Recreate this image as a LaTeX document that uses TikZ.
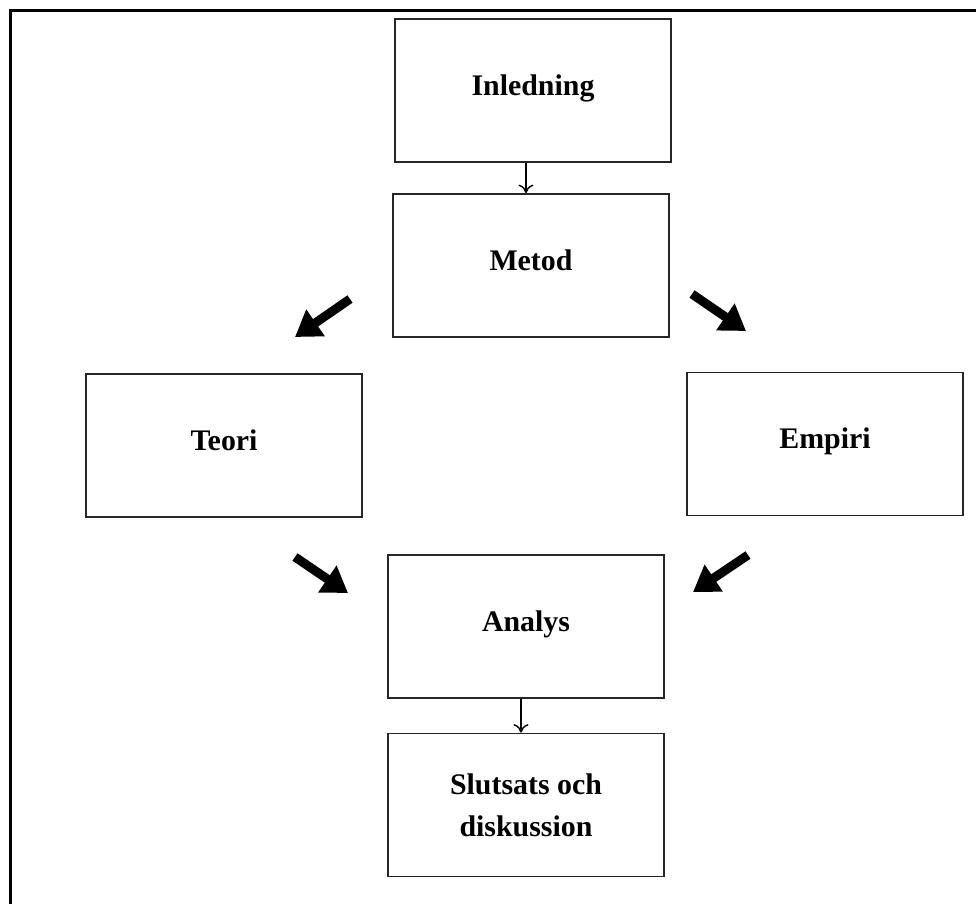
\documentclass[tikz,border=0pt]{standalone}
\usepackage{fontspec}
\setmainfont{Liberation Serif}
\usetikzlibrary{arrows.meta}

\begin{document}
\begin{tikzpicture}[x=0.2mm, y=-0.2mm, font=\fontsize{17}{24}\selectfont\bfseries,
		box/.style={draw=black!85, line width=1pt, rectangle, minimum width=5.52cm, minimum height=2.86cm, inner sep=0pt, align=center},
		onerow/.style={text height=0.45cm, text depth=0.27cm},
		flow/.style={-{To[length=1.7mm, width=3mm]}, line width=0.8pt},
		fat/.style={-{Triangle[length=0.5cm, width=0.62cm]}, line width=0.18cm}]
		\useasboundingbox (0,0) rectangle (976,904);
		% frame (only top and left edges show)
		\draw[line width=1.7pt] (976,10.5) -- (10.5,10.5) -- (10.5,904);
		% boxes
		\node[box, onerow] (inledning) at (533,90.5) {Inledning};
		\node[box, onerow] (metod) at (531,265.5) {Metod};
		\node[box, onerow] (teori) at (224,445.5) {Teori};
		\node[box, onerow] (empiri) at (825,444) {Empiri};
		\node[box, onerow] (analys) at (526,626.5) {Analys};
		\node[box] (slutsats) at (526,805) {Slutsats och\\diskussion};
		% thin arrows
		\draw[flow] ([xshift=-1.4mm]inledning.south) -- ([xshift=-1.4mm]inledning.south |- metod.north);
		\draw[flow] ([xshift=-1mm]analys.south) -- ([xshift=-1mm]analys.south |- slutsats.north);
		% fat arrows
		\coordinate (mt1) at (350,299);
		\coordinate (mt2) at (295,337);
		\coordinate (me1) at (692,294);
		\coordinate (me2) at (746,331);
		\coordinate (ta1) at (295,557);
		\coordinate (ta2) at (348,593);
		\coordinate (ea1) at (748,555);
		\coordinate (ea2) at (693,592);
		\draw[fat] (mt1) -- (mt2);
		\draw[fat] (me1) -- (me2);
		\draw[fat] (ta1) -- (ta2);
		\draw[fat] (ea1) -- (ea2);
	\end{tikzpicture}
\end{document}
